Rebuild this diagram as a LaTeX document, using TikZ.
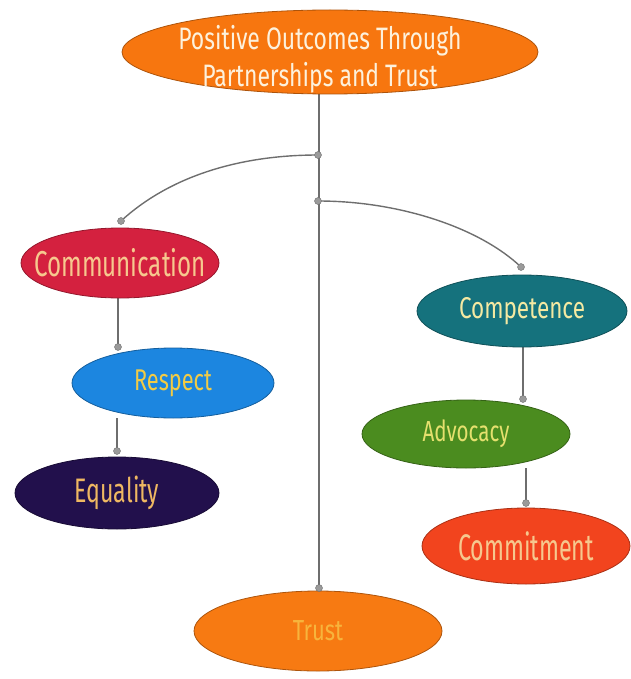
\documentclass[tikz,border=0pt]{standalone}
\usepackage{fontspec}
\setmainfont{Fira Sans}
\usetikzlibrary{shapes.geometric,backgrounds}

\definecolor{linkgray}{HTML}{6E6E6E}
\definecolor{dotgray}{HTML}{9A9A9A}
\definecolor{cTop}{HTML}{F7760F}
\definecolor{cComm}{HTML}{D4213F}
\definecolor{cResp}{HTML}{1C86E0}
\definecolor{cEqual}{HTML}{22104C}
\definecolor{cComp}{HTML}{15727D}
\definecolor{cAdv}{HTML}{4B8C1F}
\definecolor{cCommit}{HTML}{F2441E}
\definecolor{cTrust}{HTML}{F77A12}
\definecolor{tCream}{HTML}{FDF1DC}
\definecolor{tPeach}{HTML}{F6C88E}
\definecolor{tGold}{HTML}{F2CB45}
\definecolor{tTan}{HTML}{EFB862}
\definecolor{tPale}{HTML}{F4E9A2}
\definecolor{tLime}{HTML}{E5E06E}
\definecolor{tAmber}{HTML}{F7B43C}

% narrow lettering: size in pt, then horizontal stretch factor
\newcommand{\narrowtype}[2]{\fontsize{#1}{37}\selectfont\addfontfeature{FakeStretch=#2}}

\tikzset{
  value/.style n args={4}{ellipse, minimum width=#1pt, minimum height=#2pt,
    inner sep=0pt, fill=#3, draw=#3!70!black, line width=0.8pt},
  tag/.style n args={3}{font=\narrowtype{#1}{#2}, text=#3, align=center,
    inner sep=0pt},
  link/.style={draw=linkgray, line width=1.4pt},
  joint/.style={circle, fill=dotgray, draw=linkgray, line width=0.4pt,
    inner sep=0pt, minimum size=7pt}
}

\begin{document}
\begin{tikzpicture}[x=1pt, y=-1pt]
  \useasboundingbox (0,0) rectangle (630,679);

  % ellipses, each with its word set in the middle
  \node[value={416}{84}{cTop}{tCream},
    label={[tag={31}{0.74}{tCream}, xshift=-10pt, yshift=-7pt]center:Positive Outcomes Through\\Partnerships and Trust}]
    (top) at (330,52) {};
  \node[value={198}{70}{cComm}{tPeach},
    label={[tag={36}{0.67}{tPeach}]center:Communication}] (comm) at (120,263) {};
  \node[value={202}{70}{cResp}{tGold},
    label={[tag={30}{0.725}{tGold}]center:Respect}] (resp) at (173,383) {};
  \node[value={204}{72}{cEqual}{tTan},
    label={[tag={34}{0.68}{tTan}]center:Equality}] (equal) at (117,493) {};
  \node[value={210}{72}{cComp}{tPale},
    label={[tag={30}{0.75}{tPale}]center:Competence}] (comp) at (522,311) {};
  \node[value={208}{68}{cAdv}{tLime},
    label={[tag={29}{0.71}{tLime}]center:Advocacy}] (adv) at (466,434) {};
  \node[value={208}{76}{cCommit}{tPeach},
    label={[tag={37}{0.63}{tPeach}]center:Commitment}] (commit) at (526,546) {};
  \node[value={248}{80}{cTrust}{tAmber},
    label={[tag={29}{0.76}{tAmber}]center:Trust}] (trust) at (318,631) {};

  % junctions on the central stem and attachment points
  \coordinate (j1) at (318,155);
  \coordinate (j2) at (318,201);
  \coordinate (aComm) at (121,221);
  \coordinate (aResp) at (118,347);
  \coordinate (aEqual) at (117,451);
  \coordinate (aComp) at (521,267);
  \coordinate (aAdv) at (523,399);
  \coordinate (aCommit) at (526,503);
  \coordinate (aTrust) at (319,588);

  \begin{pgfonlayer}{background}
    \draw[link] (top.south -| aTrust) -- (aTrust);
    \draw[link] (j1) .. controls (240,155) and (170,176) .. (aComm);
    \draw[link] (j2) .. controls (400,201) and (480,228) .. (aComp);
    \draw[link] (comm.south -| aResp) -- (aResp);
    \draw[link] (resp.south -| aEqual) -- (aEqual);
    \draw[link] (comp.south -| aAdv) -- (aAdv);
    \draw[link] (adv.south -| aCommit) -- (aCommit);
  \end{pgfonlayer}

  \foreach \p in {j1,j2,aComm,aResp,aEqual,aComp,aAdv,aCommit,aTrust}
    \node[joint] at (\p) {};
\end{tikzpicture}
\end{document}
